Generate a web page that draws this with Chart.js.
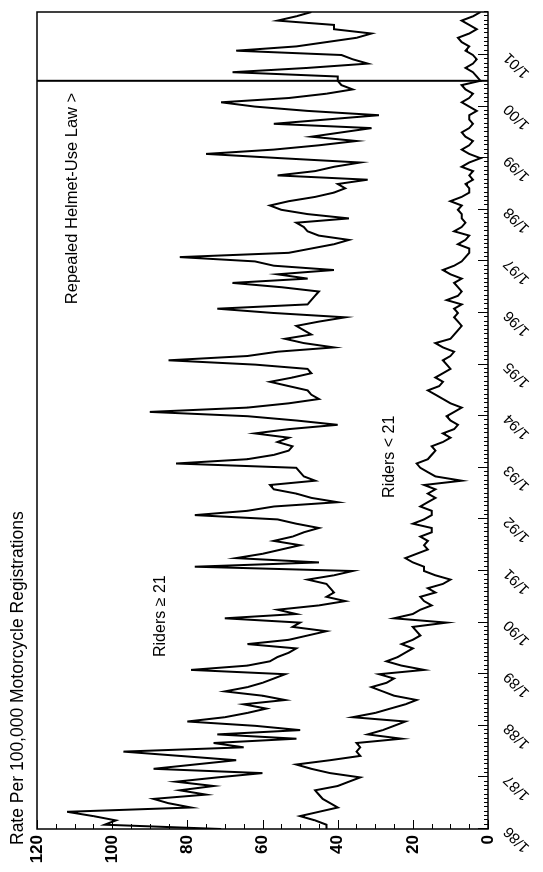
<!DOCTYPE html>
<html>
<head>
<meta charset="utf-8">
<script src="https://cdn.jsdelivr.net/npm/chart.js@4.4.1/dist/chart.umd.min.js"></script>
<style>
  html, body { margin: 0; padding: 0; background: #fff; overflow: hidden; }
  #wrap {
    position: absolute; left: 0; top: 0;
    width: 872px; height: 543px;
    transform-origin: 0 0;
    transform: translate(0, 872px) rotate(-90deg);
  }
</style>
</head>
<body>
<div id="wrap"><canvas id="chart" width="872" height="543"></canvas></div>
<script>
// monthly rates, 1/86 .. 11/01 (one value per month)
const ridersOver21 = [
  71,102,99,105,112,79,85,89,75,82,73,83,
  72,60,89,78,67,82,97,65,73,51,72,50,
  62,80,70,64,59,65,54,60,70,64,60,57,
  54,79,64,58,56,53,51,64,53,48,43,52,
  50,70,51,56,45,38,43,41,42,43,48,41,
  36,78,45,67,60,55,50,57,52,49,45,51,
  56,78,64,57,40,47,51,57,58,46,49,50,
  51,83,64,57,53,52,56,53,62,53,40,51,
  64,90,64,53,45,47,48,53,58,52,47,48,
  62,85,64,56,41,49,54,47,49,51,45,38,
  57,72,48,47,46,45,55,68,48,56,41,57,
  62,82,53,47,41,37,45,48,49,51,37,48,
  55,58,53,46,41,38,40,32,56,46,41,34,
  55,75,57,45,35,47,39,31,57,43,29,48,
  62,71,53,43,36,39,40,40,68,48,32,36,
  39,67,51,43,35,31,41,41,56,51,47
];
const ridersUnder21 = [
  43,43,46,50,45,40,42,44,45,46,40,37,
  34,42,47,51,42,34,35,34,35,23,32,28,
  25,22,36,30,26,22,19,25,28,31,27,25,
  29,17,23,27,24,22,20,23,20,18,19,20,
  11,25,20,18,15,17,18,14,16,12,10,14,
  17,17,20,22,19,16,17,16,18,15,15,20,
  17,15,15,18,16,14,16,14,17,7,14,16,
  18,19,16,15,14,15,12,10,12,9,8,10,
  11,9,7,10,12,14,16,13,12,14,12,10,
  11,12,10,9,12,14,10,9,8,7,8,9,
  8,9,7,11,8,7,8,9,7,10,12,9,
  7,6,5,5,8,6,5,9,7,6,7,7,
  8,7,10,7,5,5,6,4,5,4,7,5,
  2,5,7,5,4,6,7,5,4,5,5,3,
  5,7,5,4,6,7,2,3,4,6,4,3,
  4,6,5,7,8,5,3,5,7,4,2
];
const yearLabels = ['1/86','1/87','1/88','1/89','1/90','1/91','1/92','1/93',
                    '1/94','1/95','1/96','1/97','1/98','1/99','1/00','1/01'];
const repealMonth = 174; // 7/00

const FONT = '"Liberation Sans", Arial, sans-serif';
const toPoints = arr => arr.map((v, i) => ({ x: i, y: v }));

const decor = {
  id: 'decor',
  afterDraw(chart) {
    const { ctx, chartArea: a, scales } = chart;
    const xs = scales.x, ys = scales.y;
    ctx.save();
    ctx.strokeStyle = '#000';
    // inward ticks on the time axis
    ctx.lineWidth = 1;
    for (let m = 0; m <= xs.max; m++) {
      const px = Math.round(xs.getPixelForValue(m)) + 0.5;
      const len = m % 12 === 0 ? 10 : 4;
      ctx.beginPath(); ctx.moveTo(px, a.bottom); ctx.lineTo(px, a.bottom - len); ctx.stroke();
    }
    // inward ticks on the value axis
    for (let v = 0; v <= 120; v += 5) {
      const py = Math.round(ys.getPixelForValue(v)) + 0.5;
      const len = v % 20 === 0 ? 9 : 5;
      ctx.beginPath(); ctx.moveTo(a.left, py); ctx.lineTo(a.left + len, py); ctx.stroke();
    }
    // frame
    ctx.lineWidth = 1.5;
    ctx.strokeRect(a.left, a.top, a.right - a.left, a.bottom - a.top);
    // repeal line
    const rx = xs.getPixelForValue(repealMonth);
    ctx.lineWidth = 2;
    ctx.beginPath(); ctx.moveTo(rx, a.top); ctx.lineTo(rx, a.bottom); ctx.stroke();

    ctx.fillStyle = '#000';
    ctx.textBaseline = 'middle';
    ctx.font = '17.5px ' + FONT;
    ctx.textAlign = 'left';
    ctx.fillText('Rate Per 100,000 Motorcycle Registrations', a.left - 16, a.top - 19);
    ctx.font = '16.5px ' + FONT;
    ctx.textAlign = 'right';
    ctx.fillText('Repealed Helmet-Use Law >', rx - 12, ys.getPixelForValue(110.5));
    ctx.font = '16px ' + FONT;
    ctx.textAlign = 'left';
    ctx.fillText('Riders \u2265 21', xs.getPixelForValue(40), ys.getPixelForValue(87));
    ctx.fillText('Riders < 21', xs.getPixelForValue(77), ys.getPixelForValue(26.3));
    ctx.restore();
  }
};

new Chart(document.getElementById('chart'), {
  type: 'line',
  data: {
    datasets: [
      { label: 'Riders >= 21', data: toPoints(ridersOver21), borderColor: '#000', borderWidth: 2, pointRadius: 0, tension: 0 },
      { label: 'Riders < 21', data: toPoints(ridersUnder21), borderColor: '#000', borderWidth: 2, pointRadius: 0, tension: 0 }
    ]
  },
  options: {
    responsive: false,
    animation: false,
    devicePixelRatio: 1,
    layout: { padding: { top: 37, right: 12, left: 0, bottom: 0 } },
    plugins: { legend: { display: false }, tooltip: { enabled: false }, title: { display: false } },
    scales: {
      x: {
        type: 'linear', min: 0, max: ridersOver21.length - 1,
        grid: { display: false, drawTicks: false },
        border: { display: false },
        afterFit: s => { s.height = 55; },
        afterBuildTicks: s => { s.ticks = yearLabels.map((_, i) => ({ value: i * 12 })); },
        ticks: {
          autoSkip: false, minRotation: 45, maxRotation: 45, padding: 12,
          color: '#000', font: { family: FONT, size: 15 },
          callback: v => yearLabels[v / 12]
        }
      },
      y: {
        min: 0, max: 120,
        grid: { display: false, drawTicks: false },
        border: { display: false },
        afterFit: s => { s.width = 43; },
        ticks: { stepSize: 20, padding: 6, color: '#000', font: { family: FONT, size: 17, weight: 'bold' } }
      }
    }
  },
  plugins: [decor]
});
</script>
</body>
</html>
